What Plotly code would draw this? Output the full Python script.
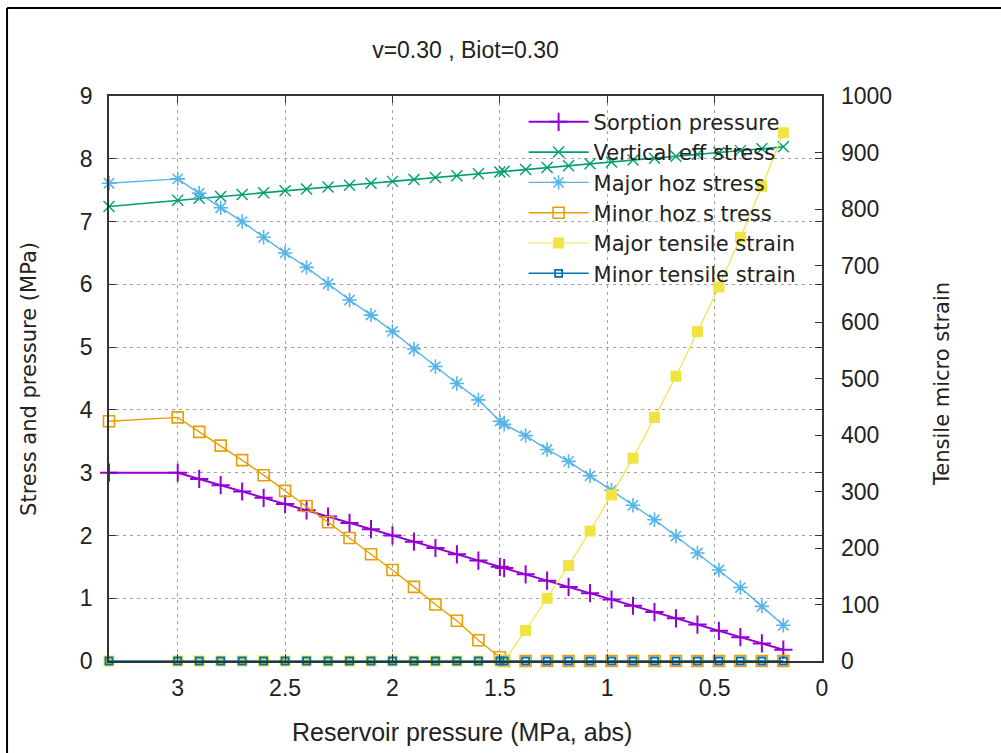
import plotly.graph_objects as go

# ---- data ----
reservoir_pressure = [3.32, 3.0, 2.9, 2.8, 2.7, 2.6, 2.5, 2.4, 2.3, 2.2, 2.1, 2.0, 1.9, 1.8,
                      1.7, 1.6, 1.5, 1.48, 1.38, 1.28, 1.18, 1.08, 0.98, 0.88, 0.78, 0.68,
                      0.58, 0.48, 0.38, 0.28, 0.18]
sorption_pressure = [3.0, 3.0, 2.9, 2.8, 2.7, 2.6, 2.5, 2.4, 2.3, 2.2, 2.1, 2.0, 1.9, 1.8,
                     1.7, 1.6, 1.5, 1.48, 1.38, 1.28, 1.18, 1.08, 0.98, 0.88, 0.78, 0.68,
                     0.58, 0.48, 0.38, 0.28, 0.18]
vertical_eff_stress = [7.24, 7.34, 7.37, 7.40, 7.43, 7.46, 7.49, 7.52, 7.55, 7.58, 7.61, 7.64,
                       7.67, 7.70, 7.73, 7.76, 7.79, 7.80, 7.83, 7.86, 7.89, 7.92, 7.95, 7.98,
                       8.01, 8.04, 8.07, 8.10, 8.13, 8.16, 8.19]
major_hoz_stress = [7.61, 7.68, 7.45, 7.22, 7.00, 6.75, 6.50, 6.27, 6.01, 5.75, 5.51, 5.25,
                    4.97, 4.69, 4.42, 4.16, 3.82, 3.77, 3.59, 3.37, 3.18, 2.95, 2.72, 2.48,
                    2.25, 1.99, 1.72, 1.45, 1.17, 0.87, 0.57]
minor_hoz_stress = [3.82, 3.88, 3.65, 3.43, 3.20, 2.96, 2.71, 2.47, 2.21, 1.96, 1.70, 1.45,
                    1.18, 0.90, 0.64, 0.33, 0.06, 0.0, 0.0, 0.0, 0.0, 0.0, 0.0, 0.0,
                    0.0, 0.0, 0.0, 0.0, 0.0, 0.0, 0.0]
major_tensile_strain = [0, 0, 0, 0, 0, 0, 0, 0, 0, 0, 0, 0, 0, 0, 0, 0, 0, 0,
                        54, 111, 169, 230, 294, 359, 431, 504, 583, 662, 750, 840, 935]
minor_tensile_strain = [0, 0, 0, 0, 0, 0, 0, 0, 0, 0, 0, 0, 0, 0, 0, 0, 0, 0,
                        0, 0, 0, 0, 0, 0, 0, 0, 0, 0, 0, 0, 0]

x_ticks = [3, 2.5, 2, 1.5, 1, 0.5, 0]
x_tick_text = ["3", "2.5", "2", "1.5", "1", "0.5", "0"]
y_ticks = list(range(0, 10))
y2_ticks = list(range(0, 1001, 100))

title_text = "v=0.30 , Biot=0.30"
x_label = "Reservoir pressure (MPa, abs)"
y_label = "Stress and pressure (MPa)"
y2_label = "Tensile micro strain"

ARIAL = "Liberation Sans, Arial, sans-serif"
SANS = "DejaVu Sans, sans-serif"
TICK_FONT = dict(family=ARIAL, size=23, color="#222222")

fig = go.Figure()

fig.add_trace(go.Scatter(
    x=reservoir_pressure, y=sorption_pressure, name="Sorption pressure",
    mode="lines+markers", line=dict(color="#9400d3", width=2), cliponaxis=False,
    marker=dict(symbol="cross-thin", size=13, line=dict(color="#9400d3", width=2)),
    legendgroup="a"))
fig.add_trace(go.Scatter(
    x=reservoir_pressure, y=vertical_eff_stress, name="Vertical eff stress",
    mode="lines+markers", line=dict(color="#009e73", width=1.6), cliponaxis=False,
    marker=dict(symbol="x-thin", size=11, line=dict(color="#009e73", width=1.4)),
    legendgroup="b"))
fig.add_trace(go.Scatter(
    x=reservoir_pressure, y=major_hoz_stress, name="Major hoz stress",
    mode="lines+markers", line=dict(color="#56b4e9", width=1.4), cliponaxis=False,
    marker=dict(symbol="asterisk", size=12, line=dict(color="#56b4e9", width=1.6)),
    legendgroup="c"))
fig.add_trace(go.Scatter(
    x=reservoir_pressure, y=minor_hoz_stress, name="Minor hoz s tress",
    mode="lines+markers", line=dict(color="#e69f00", width=1.4), cliponaxis=False,
    marker=dict(symbol="square-open", size=11, color="#e69f00", line=dict(color="#e69f00", width=1.6)),
    legendgroup="d"))
fig.add_trace(go.Scatter(
    x=reservoir_pressure, y=major_tensile_strain, name="Major tensile strain", yaxis="y2",
    mode="lines+markers", line=dict(color="#f0e442", width=1.2), cliponaxis=False,
    marker=dict(symbol="square", size=11, color="#f0e442", line=dict(width=0)),
    legendgroup="e"))
fig.add_trace(go.Scatter(
    x=reservoir_pressure, y=minor_tensile_strain, name="Minor tensile strain", yaxis="y2",
    mode="lines+markers", line=dict(color="#0072b2", width=1.6), cliponaxis=False,
    marker=dict(symbol="square-open", size=7, color="#0072b2", line=dict(color="#0072b2", width=1.8)),
    legendgroup="f"))

grid = dict(showgrid=True, gridcolor="#a0a0a0", gridwidth=1, griddash="3px,4px")

fig.update_layout(
    width=1001, height=753,
    margin=dict(l=109, r=179, t=96, b=92),
    paper_bgcolor="white", plot_bgcolor="white",
    showlegend=True,
    legend=dict(x=0.97, xanchor="right", y=0.99, yanchor="top",
                bgcolor="rgba(0,0,0,0)", borderwidth=0,
                font=dict(family=SANS, size=21, color="#222222"),
                itemwidth=60, traceorder="grouped", tracegroupgap=0),
    xaxis=dict(range=[3.32, 0], tickmode="array", tickvals=x_ticks, ticktext=x_tick_text,
               ticks="inside", ticklen=7, tickcolor="#333333", tickwidth=1.2,
               showline=True, linecolor="#333333", linewidth=1.5, mirror="ticks",
               zeroline=False, tickfont=TICK_FONT, ticklabelstandoff=6, **grid),
    yaxis=dict(range=[0, 9], tickmode="array", tickvals=y_ticks,
               ticks="inside", ticklen=7, tickcolor="#333333", tickwidth=1.2,
               showline=True, linecolor="#333333", linewidth=1.5, mirror="ticks",
               zeroline=False, tickfont=TICK_FONT, ticklabelstandoff=10, **grid),
    yaxis2=dict(range=[0, 1000], tickmode="array", tickvals=y2_ticks, overlaying="y",
                side="right", ticks="inside", ticklen=7, tickcolor="#333333", tickwidth=1.2,
                showline=False, showgrid=False, zeroline=False, tickfont=TICK_FONT,
                ticklabelstandoff=18),
    title=dict(text=title_text, x=0.5, xref="paper", xanchor="center",
               y=1 - 50 / 753, yref="container", yanchor="middle",
               font=dict(family=ARIAL, size=23, color="#222222")),
)

fig.add_annotation(text=x_label, xref="paper", yref="paper", x=0.495, y=-0.126,
                   xanchor="center", yanchor="middle", showarrow=False,
                   font=dict(family=ARIAL, size=25, color="#222222"))
fig.add_annotation(text=y_label, xref="paper", yref="paper", x=-0.113, y=0.5,
                   xanchor="center", yanchor="middle", showarrow=False, textangle=-90,
                   font=dict(family=SANS, size=21, color="#222222"))
fig.add_annotation(text=y2_label, xref="paper", yref="paper", x=1.168, y=0.49,
                   xanchor="center", yanchor="middle", showarrow=False, textangle=-90,
                   font=dict(family=SANS, size=21, color="#222222"))

# window frame (top and left edges)
fig.add_shape(type="line", xref="paper", yref="paper", x0=-0.143, x1=1.3,
              y0=(661 - 8) / 565, y1=(661 - 8) / 565, line=dict(color="black", width=2))
fig.add_shape(type="line", xref="paper", yref="paper", x0=-0.143, x1=-0.143,
              y0=(661 - 8) / 565, y1=-0.2, line=dict(color="black", width=2))

fig.write_html("out.html", config={"displayModeBar": False},
               post_script="document.body.style.margin='0';")
